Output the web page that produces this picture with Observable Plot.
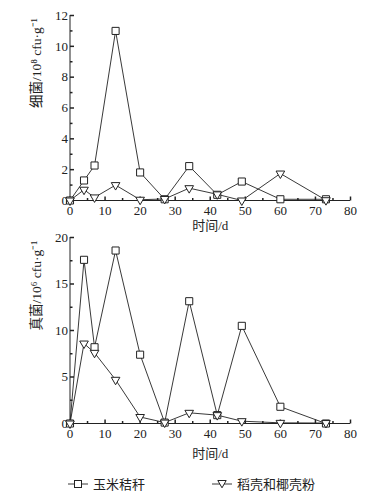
<!DOCTYPE html>
<html>
<head>
<meta charset="utf-8">
<script src="https://cdn.jsdelivr.net/npm/d3@7"></script>
<script src="https://cdn.jsdelivr.net/npm/@observablehq/plot@0.6"></script>
<style>
  html, body { margin: 0; padding: 0; background: #fff; }
  #wrap { width: 377px; position: relative; }
  svg { display: block; }
  #legend { position: relative; height: 28px; width: 377px; font-family: 'Liberation Serif', 'Noto Sans CJK SC', serif; font-size: 13px; color: #222; }
  .item { position: absolute; top: 4px; display: flex; align-items: center; }
  .item svg { margin-right: 5px; }
</style>
</head>
<body>
<div id="wrap"></div>
<script>
const days = [0, 4, 7, 13, 20, 27, 34, 42, 49, 60, 73];
const bacteriaCorn = [0, 1.3, 2.27, 11.0, 1.82, 0.08, 2.23, 0.37, 1.23, 0.08, 0.08];
const bacteriaRice = [0, 0.7, 0.2, 1.0, 0.05, 0.1, 0.8, 0.4, 0.0, 1.75, 0.02];
const fungiCorn = [0, 17.6, 8.2, 18.6, 7.4, 0.1, 13.15, 0.9, 10.5, 1.8, 0];
const fungiRice = [0, 8.6, 7.6, 4.7, 0.7, 0.1, 1.15, 0.9, 0.25, 0.07, 0.05];
const xMajor = [0, 10, 20, 30, 40, 50, 60, 70, 80];
const xMinor = [5, 15, 25, 35, 45, 55, 65, 75];
const seriesNames = ["玉米秸秆", "稻壳和椰壳粉"];
const xLabel = "时间/d";
const topYLabel = "细菌/10⁸ cfu·g⁻¹";
const botYLabel = "真菌/10⁶ cfu·g⁻¹";
const topYMajor = [0, 2, 4, 6, 8, 10, 12];
const topYMinor = [1, 3, 5, 7, 9, 11];
const botYMajor = [0, 5, 10, 15, 20];
const botYMinor = [2.5, 7.5, 12.5, 17.5];

const tickUp = { draw(ctx, size) { const l = Math.sqrt(size / Math.PI); ctx.moveTo(0, 0); ctx.lineTo(0, -l); } };
const tickRight = { draw(ctx, size) { const l = Math.sqrt(size / Math.PI); ctx.moveTo(0, 0); ctx.lineTo(l, 0); } };

const FONT = "'Liberation Serif', 'Noto Sans CJK SC', serif";
const INK = "#222";

function makeChart({ corn, rice, yDomain, yMajor, yMinor, yLabel, height, marginTop, marginBottom, xLabelDy }) {
  const corns = days.map((d, i) => ({ d, v: corn[i] }));
  const rices = days.map((d, i) => ({ d, v: rice[i] }));
  return Plot.plot({
    width: 377,
    height,
    marginLeft: 69.5,
    marginRight: 27,
    marginTop,
    marginBottom,
    style: { fontFamily: FONT, fontSize: "13px", color: INK, background: "none", overflow: "visible" },
    x: { domain: [0, 80] },
    y: { domain: yDomain },
    marks: [
      Plot.ruleY([yDomain[0]], { stroke: INK, strokeWidth: 1 }),
      Plot.ruleX([0], { stroke: INK, strokeWidth: 1 }),
      Plot.dot(xMajor, { x: d => d, y: yDomain[0], symbol: tickUp, r: 4, stroke: INK, fill: "none" }),
      Plot.dot(xMinor, { x: d => d, y: yDomain[0], symbol: tickUp, r: 2.5, stroke: INK, fill: "none" }),
      Plot.dot(yMajor, { x: 0, y: d => d, symbol: tickRight, r: 4, stroke: INK, fill: "none" }),
      Plot.dot(yMinor, { x: 0, y: d => d, symbol: tickRight, r: 2.5, stroke: INK, fill: "none" }),
      Plot.axisX({ ticks: xMajor, tickSize: 0, tickPadding: 5, label: null, tickFormat: d => String(d) }),
      Plot.axisY({ ticks: yMajor, tickSize: 0, tickPadding: 2, label: null, tickFormat: d => String(d) }),
      Plot.line(corns, { x: "d", y: "v", stroke: INK, strokeWidth: 0.9 }),
      Plot.line(rices, { x: "d", y: "v", stroke: INK, strokeWidth: 0.9 }),
      Plot.dot(corns, { x: "d", y: "v", symbol: "square", r: 4, stroke: INK, fill: "white", strokeWidth: 1 }),
      Plot.dot(rices, { x: "d", y: "v", symbol: "triangle", r: 3.2, rotate: 180, stroke: INK, fill: "white", strokeWidth: 1 }),
      Plot.text([xLabel], { text: d => d, frameAnchor: "bottom", dy: xLabelDy, fill: INK }),
      Plot.text([yLabel], { text: d => d, frameAnchor: "left", dx: -33.5, rotate: -90, fill: INK, fontSize: 13.5 })
    ]
  });
}

const wrap = document.getElementById("wrap");
const chartTop = makeChart({
  corn: bacteriaCorn, rice: bacteriaRice, yDomain: [0, 12], yMajor: topYMajor, yMinor: topYMinor,
  yLabel: topYLabel, height: 240, marginTop: 15, marginBottom: 40, xLabelDy: 29
});
wrap.appendChild(chartTop);
const chartBottom = makeChart({
  corn: fungiCorn, rice: fungiRice, yDomain: [0, 20], yMajor: botYMajor, yMinor: botYMinor,
  yLabel: botYLabel, height: 240, marginTop: 7, marginBottom: 47, xLabelDy: 34
});
chartBottom.style.marginTop = "-10px";
wrap.appendChild(chartBottom);

const legend = document.createElement("div");
legend.id = "legend";
const sq = '<svg width="20" height="12"><line x1="0" y1="6" x2="20" y2="6" stroke="#222" stroke-width="0.9"/><rect x="6.5" y="2.5" width="7" height="7" fill="white" stroke="#222"/></svg>';
const tri = '<svg width="20" height="12"><line x1="0" y1="6" x2="20" y2="6" stroke="#222" stroke-width="0.9"/><path d="M5.8,2.5 L14.2,2.5 L10,9.8 Z" fill="white" stroke="#222"/></svg>';
legend.innerHTML =
  `<div class="item" style="left:68px">${sq}<span>${seriesNames[0]}</span></div>` +
  `<div class="item" style="left:212px">${tri}<span>${seriesNames[1]}</span></div>`;
wrap.appendChild(legend);
</script>
</body>
</html>
